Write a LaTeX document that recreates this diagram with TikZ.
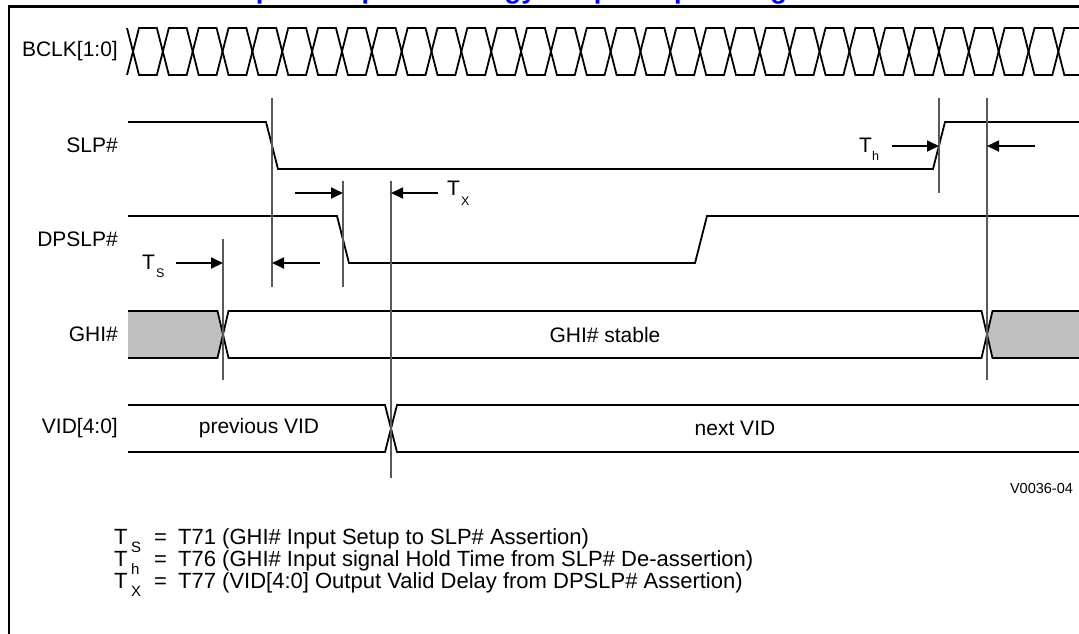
\documentclass[tikz,border=0pt]{standalone}
\usepackage{fontspec}
\setmainfont{Liberation Sans}
\usetikzlibrary{arrows.meta}
\definecolor{titleblue}{RGB}{0,0,255}
\definecolor{busgray}{RGB}{192,192,192}
\tikzset{
  sig/.style={line width=1.8pt, line join=miter, line cap=butt},
  tline/.style={line width=1.1pt, black!65},
  tarrow/.style={line width=1.8pt, -{Triangle[length=12pt,width=11pt]}},
  siglabel/.style={anchor=east, inner sep=0pt, font=\fontsize{21}{25}\selectfont},
  bustext/.style={inner sep=0pt, font=\fontsize{21}{25}\selectfont},
  tmain/.style={anchor=base west, inner sep=0pt, font=\fontsize{21}{25}\selectfont},
  lmain/.style={anchor=base west, inner sep=0pt, font=\fontsize{22}{26}\selectfont},
  tsub/.style={anchor=base west, inner sep=0pt, font=\fontsize{12.5}{14}\selectfont},
  lsub/.style={anchor=base west, inner sep=0pt, font=\fontsize{15}{17}\selectfont},
}
\begin{document}
\begin{tikzpicture}[x=1pt,y=-1pt]
\useasboundingbox (0,0) rectangle (1079,633);
\fill[white] (0,0) rectangle (1079,633);

% clipped title (only descenders visible)
\node[anchor=base west, inner sep=0pt, text=titleblue,
      font=\bfseries\fontsize{27.2}{30}\selectfont] (title) at (174,-1.2)
      {Intel SpeedStep Technology/Deep Sleep Timing};

% frame
\draw[line width=2.5pt] (9,645) -- (9,6.5) -- (1095,6.5);

% signal names
\node[siglabel] (lbclk) at (118,51.5) {BCLK[1:0]};
\node[siglabel] (lslp) at (118,145.5) {SLP\#};
\node[siglabel] (ldpslp) at (118,239.5) {DPSLP\#};
\node[siglabel] (lghi) at (118,334.5) {GHI\#};
\node[siglabel] (lvid) at (118,428.5) {VID[4:0]};

% BCLK
\draw[sig] (127,28) foreach \k in {0,...,32} {
   -- ({139+29.85*\k},{28+47*mod(\k+1,2)}) -- ({156.85+29.85*\k},{28+47*mod(\k+1,2)}) };
\draw[sig] (127,75) foreach \k in {0,...,32} {
   -- ({139+29.85*\k},{28+47*mod(\k,2)}) -- ({156.85+29.85*\k},{28+47*mod(\k,2)}) };

% SLP#
\draw[sig] (128,122) -- (266,122) -- (278,169) -- (933,169) -- (945,122) -- (1090,122);
% DPSLP#
\draw[sig] (128,216) -- (337,216) -- (349,263) -- (695,263) -- (707,216) -- (1090,216);

% GHI#
\fill[busgray] (128,311) -- (217.5,311) -- (223,334.5) -- (217.5,358) -- (128,358) -- cycle;
\fill[busgray] (992.5,311) -- (1090,311) -- (1090,358) -- (992.5,358) -- (987,334.5) -- cycle;
\draw[sig] (128,311) -- (217.5,311) -- (228.5,358) -- (981.5,358) -- (992.5,311) -- (1090,311);
\draw[sig] (128,358) -- (217.5,358) -- (228.5,311) -- (981.5,311) -- (992.5,358) -- (1090,358);
\node[bustext] (ghistable) at (605,334.5) {GHI\# stable};

% VID[4:0]
\draw[sig] (128,405) -- (385,405) -- (397,452) -- (1090,452);
\draw[sig] (128,452) -- (385,452) -- (397,405) -- (1090,405);
\node[bustext] (prevvid) at (259,428.5) {previous VID};
\node[bustext] (nextvid) at (735,428.5) {next VID};

% timing reference lines
\coordinate (va1) at (223,239); \coordinate (va2) at (223,380);
\coordinate (vb1) at (272,98);  \coordinate (vb2) at (272,287);
\coordinate (vc1) at (343,181); \coordinate (vc2) at (343,287);
\coordinate (vd1) at (391,181); \coordinate (vd2) at (391,478);
\coordinate (ve1) at (939,98);  \coordinate (ve2) at (939,193);
\coordinate (vf1) at (987,98);  \coordinate (vf2) at (987,380);
\draw[tline] (va1) -- (va2);
\draw[tline] (vb1) -- (vb2);
\draw[tline] (vc1) -- (vc2);
\draw[tline] (vd1) -- (vd2);
\draw[tline] (ve1) -- (ve2);
\draw[tline] (vf1) -- (vf2);

% arrows
\coordinate (tsA) at (176,263);  \coordinate (tsB) at (223,263);
\coordinate (tsC) at (320,263);  \coordinate (tsD) at (272,263);
\coordinate (txA) at (295,193);  \coordinate (txB) at (343,193);
\coordinate (txC) at (438,193);  \coordinate (txD) at (391,193);
\coordinate (thA) at (892,146);  \coordinate (thB) at (939,146);
\coordinate (thC) at (1035,146); \coordinate (thD) at (987,146);
\draw[tarrow] (tsA) -- (tsB);
\draw[tarrow] (tsC) -- (tsD);
\draw[tarrow] (txA) -- (txB);
\draw[tarrow] (txC) -- (txD);
\draw[tarrow] (thA) -- (thB);
\draw[tarrow] (thC) -- (thD);

% timing labels
\node[tmain] (tsT) at (142,269) {T};
\node[tsub] (tsS) at (156,277) {S};
\node[tmain] (txT) at (447,195) {T};
\node[tsub] (txX) at (461,205) {X};
\node[tmain] (thT) at (859,152) {T};
\node[tsub] (thH) at (872,160) {h};

% figure id
\node[inner sep=0pt, font=\fontsize{14.5}{16}\selectfont] (figid) at (1041.5,488) {V0036-04};

% legend
\node[lmain] (l1T) at (114,544) {T};
\node[lsub] (l1S) at (131,552) {S};
\node[lmain] (l1e) at (154,544) {=};
\node[lmain] (l1x) at (178,544) {T71 (GHI\# Input Setup to SLP\# Assertion)};
\node[lmain] (l2T) at (114,566) {T};
\node[lsub] (l2S) at (131,574) {h};
\node[lmain] (l2e) at (154,566) {=};
\node[lmain] (l2x) at (178,566) {T76 (GHI\# Input signal Hold Time from SLP\# De-assertion)};
\node[lmain] (l3T) at (114,588) {T};
\node[lsub] (l3S) at (131,596) {X};
\node[lmain] (l3e) at (154,588) {=};
\node[lmain] (l3x) at (178,588) {T77 (VID[4:0] Output Valid Delay from DPSLP\# Assertion)};
\end{tikzpicture}
\end{document}
